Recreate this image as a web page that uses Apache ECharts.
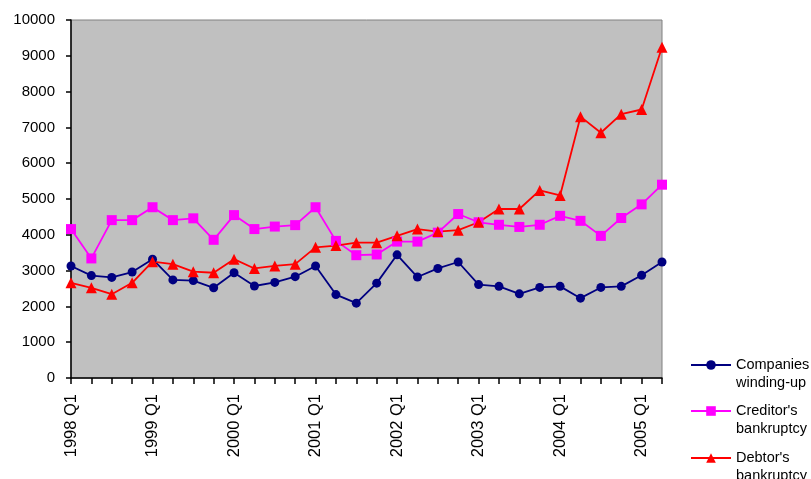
<!DOCTYPE html>
<html>
<head>
<meta charset="utf-8">
<script src="https://cdn.jsdelivr.net/npm/echarts@6/dist/echarts.min.js"></script>
<style>
  html, body { margin: 0; padding: 0; background: #ffffff; }
  #chart { width: 811px; height: 479px; }
</style>
</head>
<body>
<div id="chart"></div>
<script>
// Quarterly categories, 1998 Q1 – 2005 Q2
const quarters = [
  '1998 Q1', '1998 Q2', '1998 Q3', '1998 Q4',
  '1999 Q1', '1999 Q2', '1999 Q3', '1999 Q4',
  '2000 Q1', '2000 Q2', '2000 Q3', '2000 Q4',
  '2001 Q1', '2001 Q2', '2001 Q3', '2001 Q4',
  '2002 Q1', '2002 Q2', '2002 Q3', '2002 Q4',
  '2003 Q1', '2003 Q2', '2003 Q3', '2003 Q4',
  '2004 Q1', '2004 Q2', '2004 Q3', '2004 Q4',
  '2005 Q1', '2005 Q2'
];

// Series values per quarter
const companiesWindingUp = [
  3130, 2860, 2810, 2960, 3320, 2740, 2720, 2520, 2940, 2570,
  2670, 2830, 3130, 2330, 2090, 2650, 3440, 2820, 3060, 3240,
  2610, 2560, 2350, 2530, 2560, 2230, 2530, 2560, 2870, 3240
];
const creditorsBankruptcy = [
  4160, 3340, 4410, 4410, 4770, 4410, 4460, 3860, 4550, 4160,
  4230, 4270, 4770, 3830, 3430, 3450, 3810, 3810, 4060, 4580,
  4350, 4280, 4220, 4280, 4530, 4390, 3970, 4470, 4850, 5400
];
const debtorsBankruptcy = [
  2660, 2520, 2340, 2660, 3250, 3180, 2970, 2940, 3320, 3060,
  3130, 3180, 3650, 3700, 3780, 3780, 3970, 4160, 4090, 4130,
  4350, 4720, 4720, 5240, 5100, 7300, 6850, 7370, 7500, 9240
];

// Series names and their two-line legend text
const seriesNames = ["Companies winding-up", "Creditor's bankruptcy", "Debtor's bankruptcy"];
const legendLabels = ["Companies\nwinding-up", "Creditor's\nbankruptcy", "Debtor's\nbankruptcy"];

const FONT = '"Liberation Sans", Arial, sans-serif';

const chart = echarts.init(document.getElementById('chart'), null, { renderer: 'canvas' });

// One legend block per series; a blank leading line keeps the icon level
// with the first line of its two-line label.
const legendTops = [338, 384, 431];
const legends = seriesNames.map((name, i) => ({
  data: [name],
  left: 690,
  top: legendTops[i],
  orient: 'vertical',
  itemWidth: 40,
  itemHeight: 12,
  itemGap: 0,
  padding: 0,
  formatter: () => ' \n' + legendLabels[i],
  textStyle: {
    fontFamily: FONT,
    fontSize: 14.5,
    lineHeight: 18,
    color: '#000000'
  },
  selectedMode: false
}));

chart.setOption({
  animation: false,
  backgroundColor: '#ffffff',
  grid: {
    left: 71,
    right: 149,
    top: 20,
    bottom: 101,
    show: true,
    backgroundColor: '#c0c0c0',
    borderColor: '#808080',
    borderWidth: 1
  },
  legend: legends,
  xAxis: {
    type: 'category',
    data: quarters,
    boundaryGap: false,
    axisLine: { show: true, lineStyle: { color: '#000000', width: 1.5 } },
    axisTick: { show: true, interval: 0, length: 6, lineStyle: { color: '#000000', width: 1.5 } },
    axisLabel: {
      interval: 3,
      rotate: 90,
      margin: 16,
      fontFamily: FONT,
      fontSize: 16.5,
      color: '#000000'
    },
    splitLine: { show: false }
  },
  yAxis: {
    type: 'value',
    min: 0,
    max: 10000,
    interval: 1000,
    axisLine: { show: true, lineStyle: { color: '#000000', width: 1.5 } },
    axisTick: { show: true, length: 5, lineStyle: { color: '#000000', width: 1.5 } },
    axisLabel: {
      margin: 16,
      fontFamily: FONT,
      fontSize: 15,
      color: '#000000',
      formatter: (v) => String(v)
    },
    splitLine: { show: false }
  },
  series: [
    {
      name: seriesNames[0],
      type: 'line',
      data: companiesWindingUp,
      symbol: 'circle',
      symbolSize: 9,
      itemStyle: { color: '#000080' },
      lineStyle: { color: '#000080', width: 1.8 }
    },
    {
      name: seriesNames[1],
      type: 'line',
      data: creditorsBankruptcy,
      symbol: 'rect',
      symbolSize: 10,
      itemStyle: { color: '#ff00ff' },
      lineStyle: { color: '#ff00ff', width: 1.8 }
    },
    {
      name: seriesNames[2],
      type: 'line',
      data: debtorsBankruptcy,
      symbol: 'triangle',
      symbolSize: 11,
      itemStyle: { color: '#ff0000' },
      lineStyle: { color: '#ff0000', width: 1.8 }
    }
  ]
});
</script>
</body>
</html>
